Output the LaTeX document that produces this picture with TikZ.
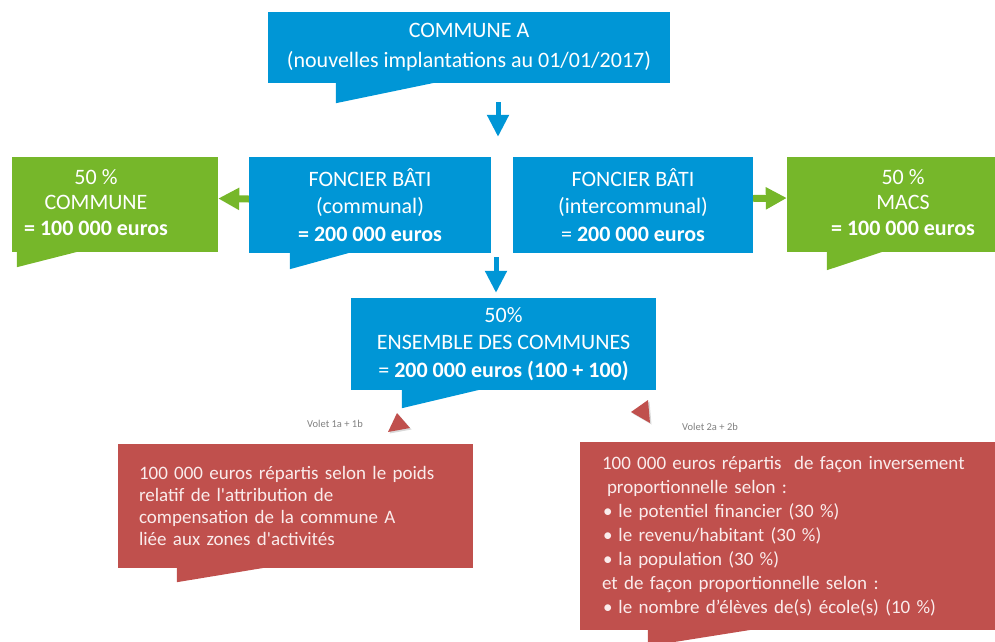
\documentclass[tikz,border=0pt]{standalone}
\usepackage{fontspec}
\setmainfont{Carlito}
\usepackage{xcolor}
\usepackage{tikz}
\definecolor{boxblue}{RGB}{0,150,214}
\definecolor{boxgreen}{RGB}{118,183,42}
\definecolor{boxred}{RGB}{192,80,77}
\definecolor{redtext}{RGB}{250,236,236}
\usetikzlibrary{arrows.meta, shadows}

\begin{document}
\begin{tikzpicture}[
    x=1pt, y=-1pt,
    box/.style={rectangle, fill=boxblue, inner sep=0pt, text=white, align=center, font=\fontsize{22}{27.5}\selectfont},
    gbox/.style={rectangle, fill=boxgreen, inner sep=0pt, text=white, font=\fontsize{22}{25.5}\selectfont},
    note/.style={rectangle, fill=boxred, inner xsep=21pt, inner ysep=0pt, text=redtext, align=left},
    volet/.style={font=\fontsize{10.5}{12}\selectfont, text=gray},
    barrow/.style={line width=5pt, boxblue, -{Triangle[length=22pt, width=21pt]}},
    garrow/.style={line width=7pt, boxgreen, -{Triangle[length=21pt, width=21pt]}},
    pointer/.style={boxred, drop shadow={opacity=0.3, shadow xshift=1.5pt, shadow yshift=-1.5pt}}
]
    \clip (0,0) rectangle (995,641);

    % Commune A
    \node[box, minimum width=402pt, minimum height=71pt, font=\fontsize{22}{30}\selectfont] (top) at (469,47.5) {COMMUNE A\\(nouvelles implantations au 01/01/2017)};
    \fill[boxblue] ([xshift=68pt, yshift=0.5pt]top.south west) -- ++(0,20.5) -- ([xshift=167pt, yshift=0.5pt]top.south west) -- cycle;

    % Foncier bati
    \node[box, minimum width=242pt, minimum height=96pt] (fbc) at (370,205) {FONCIER BÂTI\\(communal)\\\textbf{= 200 000 euros}};
    \fill[boxblue] ([xshift=41pt, yshift=0.5pt]fbc.south west) -- ++(0,16.5) -- ([xshift=101pt, yshift=0.5pt]fbc.south west) -- cycle;
    \node[box, minimum width=240pt, minimum height=96pt] (fbi) at (633,205) {FONCIER BÂTI\\(intercommunal)\\= \textbf{200 000 euros}};

    % 50 % each side
    \node[gbox, minimum width=206pt, minimum height=95pt] (gcom) at (115,204.5) {\begin{tabular}{@{}c@{}}50 \%\\COMMUNE\\\textbf{= 100 000 euros}\end{tabular}\hspace*{38pt}};
    \fill[boxgreen] ([xshift=5pt, yshift=0.5pt]gcom.south west) -- ++(0,15.5) -- ([xshift=66pt, yshift=0.5pt]gcom.south west) -- cycle;
    \node[gbox, minimum width=208pt, minimum height=95pt] (gmacs) at (891,204.5) {\hspace*{24pt}\begin{tabular}{@{}c@{}}50 \%\\MACS\\\textbf{= 100 000 euros}\end{tabular}};
    \fill[boxgreen] ([xshift=40pt, yshift=0.5pt]gmacs.south west) -- ++(0,18.5) -- ([xshift=96pt, yshift=0.5pt]gmacs.south west) -- cycle;

    \draw[garrow] ([yshift=6pt]fbc.west) -- ([yshift=6pt]gcom.east);
    \draw[garrow] ([yshift=6.5pt]fbi.east) -- ([yshift=6.5pt]gmacs.west);

    % Ensemble des communes
    \node[box, minimum width=305pt, minimum height=92pt] (ens) at (503.5,344) {50\%\\ENSEMBLE DES COMMUNES\\= \textbf{200 000 euros (100 + 100)}};
    \fill[boxblue] ([xshift=51pt, yshift=0.5pt]ens.south west) -- ++(0,18.5) -- ([xshift=129pt, yshift=0.5pt]ens.south west) -- cycle;

    \coordinate (s1) at (498,0);
    \coordinate (s2) at (496,0);
    \draw[barrow, shorten <=19pt, shorten >=20pt] (top.south -| s1) -- (fbc.north -| s1);
    \draw[barrow, shorten <=4pt, shorten >=5pt] (fbc.south -| s2) -- (ens.north -| s2);

    % Volets
    \node[volet] (v1) at (335,424) {Volet 1a + 1b};
    \node[volet] (v2) at (710,427) {Volet 2a + 2b};
    \fill[pointer] (388,432) -- (397,413) -- (410,428) -- cycle;
    \fill[pointer] (631,412) -- (648,400) -- (650,423) -- cycle;

    \node[note, text width=313pt, minimum height=124pt, font=\fontsize{19}{22}\selectfont] (r1) at (295.5,506) {100 000 euros répartis selon le poids\\relatif de l\textquotesingle attribution de\\compensation de la commune A\\liée aux zones d\textquotesingle activités};
    \fill[boxred] ([xshift=59pt, yshift=0.5pt]r1.south west) -- ++(0,14.5) -- ([xshift=147pt, yshift=0.5pt]r1.south west) -- cycle;

    \node[note, inner xsep=22pt, text width=393pt, minimum height=188pt, font=\fontsize{19}{24}\selectfont] (r2) at (798.5,536) {100 000 euros répartis\ \ de façon inversement\\\hspace*{5pt}proportionnelle selon :\\\hspace*{1pt}•\hspace{6pt}le potentiel financier (30 \%)\\\hspace*{1pt}•\hspace{6pt}le revenu/habitant (30 \%)\\\hspace*{1pt}•\hspace{6pt}la population (30 \%)\\et de façon proportionnelle selon :\\\hspace*{1pt}•\hspace{6pt}le nombre d’élèves de(s) école(s) (10 \%)};
    \fill[boxred] ([xshift=68pt, yshift=0.5pt]r2.south west) -- ++(0,16.5) -- ([xshift=172pt, yshift=0.5pt]r2.south west) -- cycle;
\end{tikzpicture}
\end{document}
